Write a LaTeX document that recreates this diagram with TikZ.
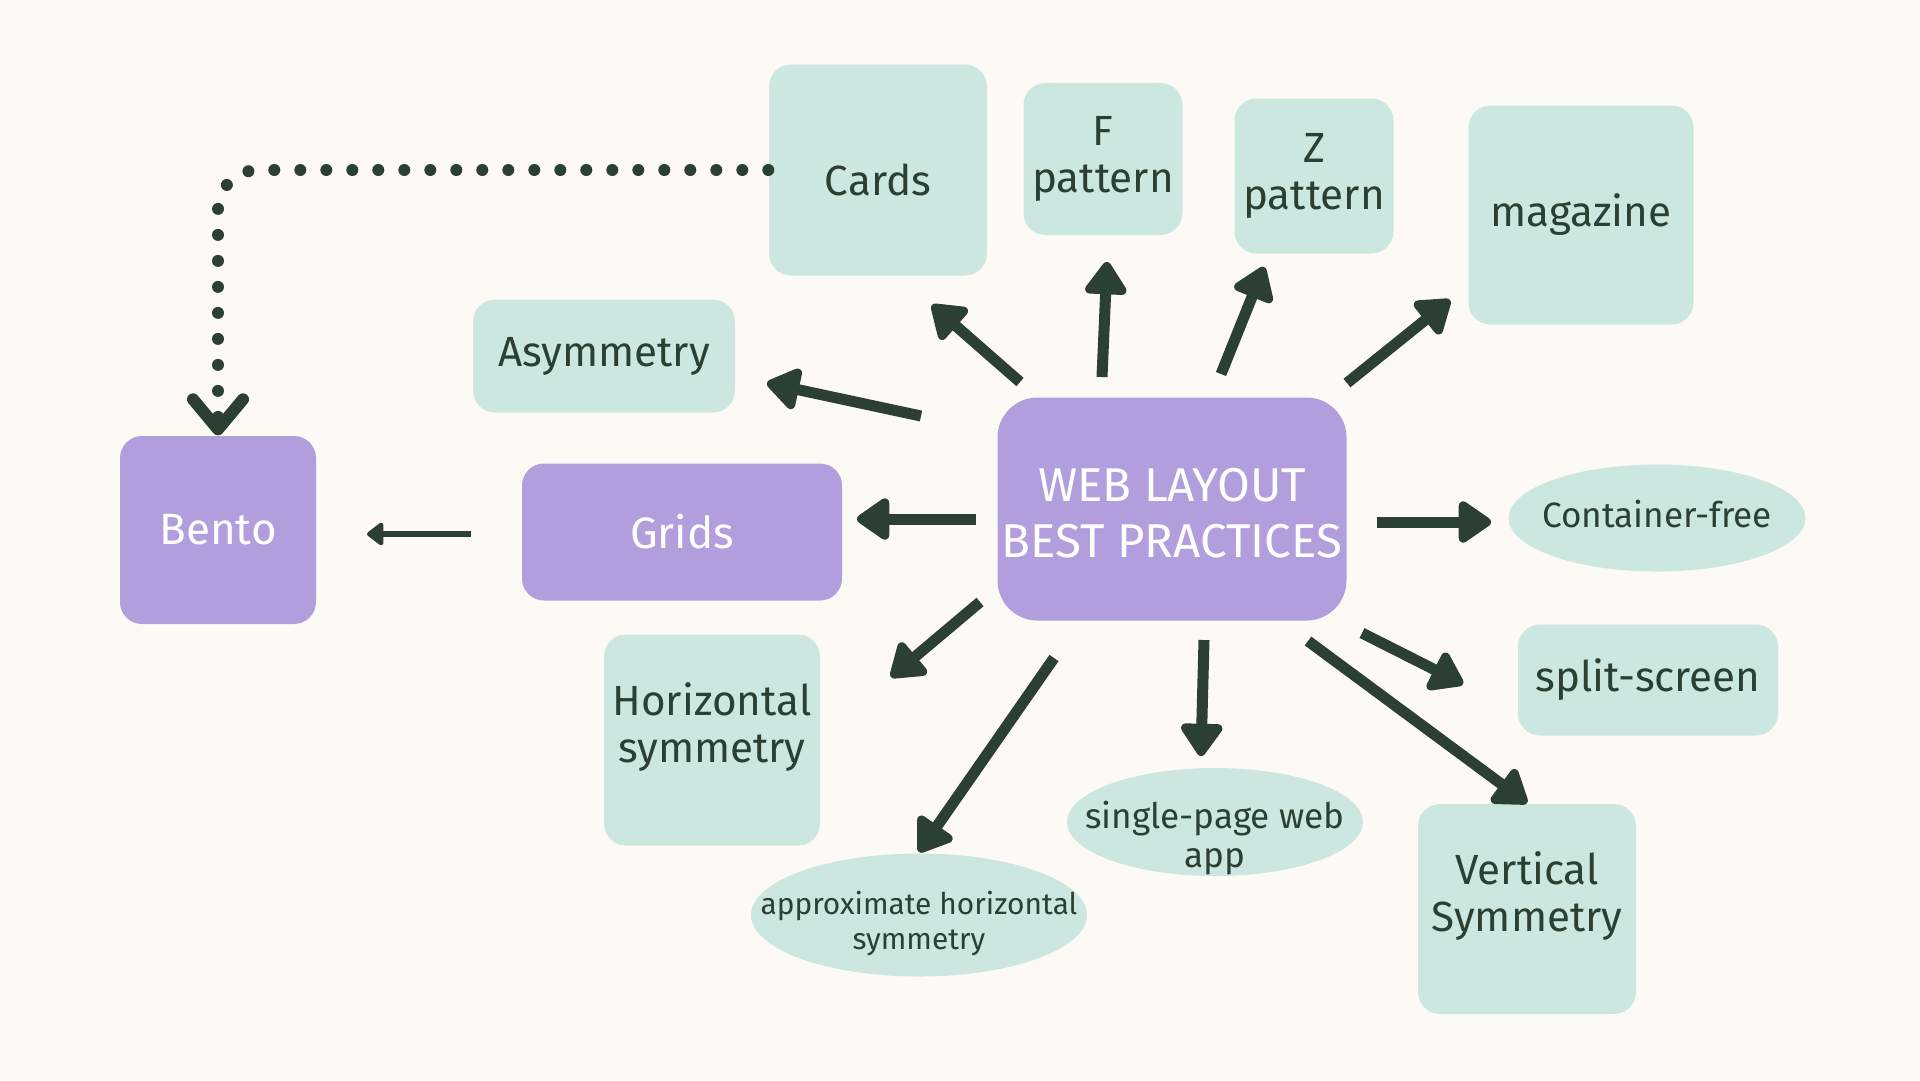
\documentclass[tikz,border=0pt]{standalone}
\usepackage{fontspec}
\setmainfont{Fira Sans}
\usetikzlibrary{arrows.meta,calc,shapes.geometric}
\definecolor{paper}{HTML}{FDFAF6}
\definecolor{mint}{HTML}{CCE7E0}
\definecolor{lilac}{HTML}{B29EDD}
\definecolor{ink}{HTML}{2C3F33}
\tikzset{
  tile/.style  ={fill=mint, rounded corners=2.2mm, inner sep=0pt, align=center,
                 text=ink, font=\fontsize{12}{13.5}\selectfont},
  pick/.style  ={tile, fill=lilac, text=white, font=\fontsize{12.5}{14}\selectfont},
  pill/.style  ={ellipse, fill=mint, inner sep=0pt, text=ink, font=\fontsize{10}{11}\selectfont},
  hubbox/.style={fill=lilac, rounded corners=4mm, inner sep=0pt,
                 text=white, font=\fontsize{13.5}{16}\selectfont},
  fat/.style   ={-{Triangle[length=3.6mm,width=4.7mm,round]}, line width=1.1mm, draw=ink},
  slim/.style  ={-{Triangle[length=1.8mm,width=2.6mm,round]}, line width=0.65mm, draw=ink},
  dots/.style  ={-{Straight Barb[length=3mm,width=5mm,round]}, line width=1.2mm, draw=ink,
                 line cap=round, dash pattern=on 0pt off 2.6mm, rounded corners=4mm}
}
% text block that does not size the node, moved by #1
\newcommand{\lifted}[2]{\makebox[0pt]{\raisebox{#1}[0pt][0pt]{\begin{tabular}{@{}c@{}}#2\end{tabular}}}}

\begin{document}
\begin{tikzpicture}[x=0.1mm,y=-0.1mm]
  \fill[paper] (0,0) rectangle (1920,1080);
  \useasboundingbox (0,0) rectangle (1920,1080);

  \node[hubbox, minimum width=34.9mm, minimum height=22.3mm](hub) at (1172,509){\lifted{-2.2mm}{WEB LAYOUT\\BEST PRACTICES}};

  % top row
  \node[tile, minimum width=21.8mm, minimum height=21.1mm](cards) at (878,170){\lifted{-2.7mm}{Cards}};
  \node[tile, minimum width=15.9mm, minimum height=15.2mm](fpat) at (1103,159){F\\pattern};
  \node[tile, minimum width=15.9mm, minimum height=15.5mm](zpat) at (1314,176){Z\\pattern};
  \node[tile, minimum width=22.5mm, minimum height=21.9mm](mag) at (1581,215){magazine};

  % left side
  \node[tile, minimum width=26.2mm, minimum height=11.3mm](asym) at (604,356){Asymmetry};
  \node[pick, minimum width=32.0mm, minimum height=13.7mm](grids) at (682,532){Grids};
  \node[pick, minimum width=19.6mm, minimum height=18.8mm](bento) at (218,530){Bento};
  \node[tile, minimum width=21.6mm, minimum height=21.1mm](hsym) at (712,740){\lifted{0mm}{Horizontal\\symmetry}};

  % right side and bottom
  \node[pill, minimum width=29.7mm, minimum height=10.7mm](cfree) at (1657,518){\lifted{-1mm}{Container-free}};
  \node[tile, minimum width=26.0mm, minimum height=11.1mm](split) at (1648,680){split-screen};
  \node[tile, minimum width=21.8mm, minimum height=21.0mm](vsym) at (1527,909){\lifted{0mm}{Vertical\\Symmetry}};
  \node[pill, minimum width=29.6mm, minimum height=10.8mm](spa) at (1215,822){\lifted{-2.7mm}{single-page web\\app}};
  \node[pill, minimum width=33.6mm, minimum height=12.3mm, font=\fontsize{8.5}{10}\selectfont](approx) at (919,915){\lifted{-1.7mm}{approximate horizontal\\symmetry}};

  \draw[fat] ($(hub)+(-152,-127)$) -- ($(cards)+(54,135)$);
  \draw[fat] ($(hub)+(-70,-132)$) -- ($(fpat)+(4,103)$);
  \draw[fat] ($(hub)+(49,-135)$) -- ($(zpat)+(-50,91)$);
  \draw[fat] ($(hub)+(175,-126)$) -- ($(mag)+(-131,85)$);
  \draw[fat] ($(hub)+(-251,-93)$) -- ($(asym)+(163,27)$);
  \draw[fat] ($(hub)+(-196,10)$) -- ($(grids)+(175,-13)$);
  \draw[fat] ($(hub)+(205,13)$) -- ($(cfree)+(-166,4)$);
  \draw[fat] ($(hub)+(190,124)$) -- ($(split)+(-185,4)$);
  \draw[fat] ($(hub)+(136,132)$) -- ($(vsym)+(0,-106)$);
  \draw[fat] ($(hub)+(32,131)$) -- ($(spa)+(-14,-66)$);
  \draw[fat] ($(hub)+(-118,149)$) -- ($(approx)+(0,-63)$);
  \draw[fat] ($(hub)+(-192,93)$) -- ($(hsym)+(179,-63)$);
  \draw[slim] ($(grids)+(-211,2)$) -- ($(bento)+(149,4)$);
  \draw[dots] (cards.west) -| (bento.north);
\end{tikzpicture}
\end{document}
